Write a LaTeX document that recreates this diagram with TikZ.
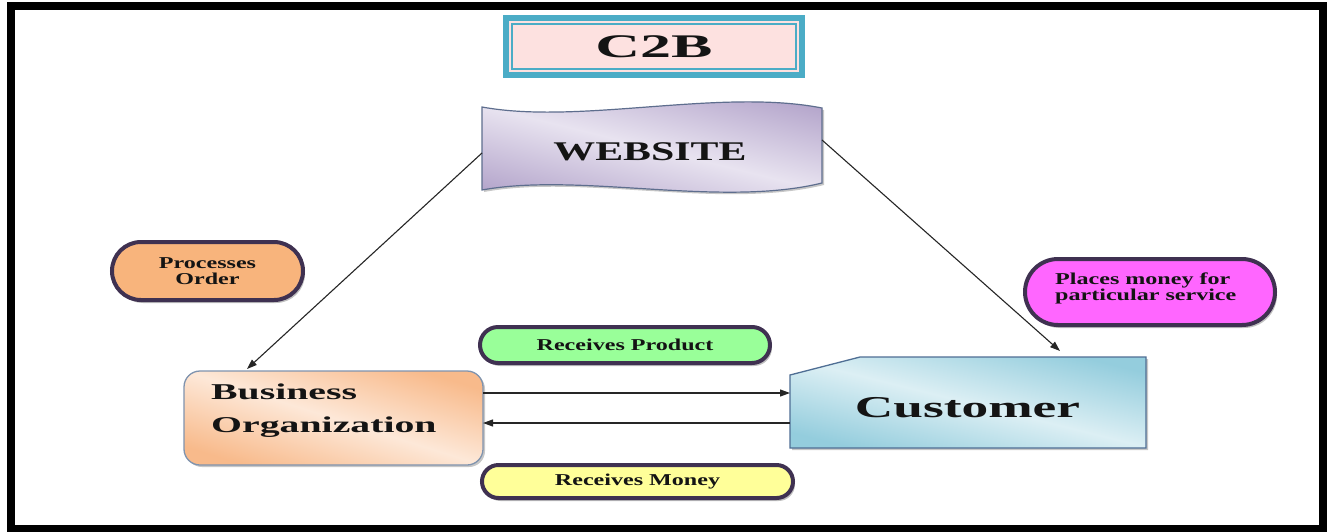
\documentclass[tikz,border=0pt]{standalone}
\usepackage{fontspec}
\setmainfont{Liberation Serif}
\newfontfamily\titlefont[FakeStretch=1.88]{Liberation Serif}
\newfontfamily\webfont[FakeStretch=1.55]{Liberation Serif}
\newfontfamily\bigfont[FakeStretch=1.76]{Liberation Serif}
\newfontfamily\labelfont[FakeStretch=1.45]{Liberation Serif}
\usetikzlibrary{shapes.misc,arrows.meta,shadows}

\definecolor{titleteal}{HTML}{4BACC6}
\definecolor{titlepink}{HTML}{FDE1E0}
\definecolor{webdark}{HTML}{B4A5CB}
\definecolor{weblight}{HTML}{E8E3F0}
\definecolor{webedge}{HTML}{5E6E8E}
\definecolor{bizdark}{HTML}{F8BA8B}
\definecolor{bizlight}{HTML}{FDE8D8}
\definecolor{bizedge}{HTML}{7F93AE}
\definecolor{custdark}{HTML}{94CDDD}
\definecolor{custlight}{HTML}{DCEFF4}
\definecolor{custedge}{HTML}{4F6E94}
\definecolor{pilledge}{HTML}{3F3151}
\definecolor{greenfill}{HTML}{99FF99}
\definecolor{yellowfill}{HTML}{FFFF99}
\definecolor{orangefill}{HTML}{F8B47C}
\definecolor{magentafill}{HTML}{FF66FF}
\definecolor{inkcolor}{HTML}{141414}

\tikzset{
  pill/.style={rounded rectangle, draw=pilledge, line width=4pt, inner sep=0pt,
    text=inkcolor, font=\labelfont\bfseries\fontsize{16.6}{16}\selectfont,
    drop shadow={shadow xshift=2pt, shadow yshift=-3pt, opacity=0.35, fill=black!70}},
  pilltext/.style={anchor=base west, inner sep=0pt, text=inkcolor,
    font=\labelfont\bfseries\fontsize{16.6}{16}\selectfont},
  bigtext/.style={inner sep=0pt, text=inkcolor,
    font=\bigfont\bfseries\fontsize{22.6}{26}\selectfont},
  conn/.style={line width=1.1pt, draw=black!85, -{Triangle[length=10pt,width=7pt]}},
  softshadow/.style={drop shadow={shadow xshift=2pt, shadow yshift=-2pt, opacity=0.22, fill=black}}
}

\begin{document}
\begin{tikzpicture}[x=1pt,y=-1pt]
\useasboundingbox (0,0) rectangle (1333,531);
\fill[white] (0,0) rectangle (1333,531);

% outer frame
\draw[line width=8pt] (11,6) rectangle (1323,529);

% title plate
\fill[titleteal] (503,15) rectangle (805,78);
\fill[titlepink] (509,21) rectangle (799,72);
\draw[titleteal, line width=1.2pt] (512,24) rectangle (796,69);
\node[anchor=base, inner sep=0pt, text=inkcolor,
      font=\titlefont\bfseries\fontsize{33}{36}\selectfont] (title) at (654,57) {C2B};

% website banner (light band along the diagonal, darker corners)
\path[draw=webedge, line width=1.2pt, top color=webdark, bottom color=webdark,
      middle color=weblight, shading angle=-14, softshadow]
  (482,107) .. controls (580,125) and (720,88) .. (822,108)
  -- (822,183) .. controls (720,208) and (580,172) .. (482,190) -- cycle;
\node[anchor=base, inner sep=0pt, text=inkcolor,
      font=\webfont\bfseries\fontsize{27}{30}\selectfont] (web) at (650,160) {WEBSITE};
\coordinate (webW) at (482,153);
\coordinate (webE) at (822,140);

% business organization
\node[rectangle, rounded corners=16pt, draw=bizedge, line width=1.3pt,
      top color=bizdark, bottom color=bizdark, middle color=bizlight, shading angle=-17.5,
      minimum width=299pt, minimum height=94pt, softshadow] (biz) at (333.5,418) {};
\node[bigtext, anchor=base west] (bizA) at (211,399) {Business};
\node[bigtext, anchor=base west] (bizB) at (211,432) {Organization};

% customer
\path[draw=custedge, line width=1.3pt, top color=custdark, bottom color=custdark,
      middle color=custlight, shading angle=-14, softshadow]
  (790,375) -- (860,357) -- (1146,357) -- (1146,448) -- (790,448) -- cycle;
\node[anchor=base, inner sep=0pt, text=inkcolor,
      font=\bigfont\bfseries\fontsize{30.3}{34}\selectfont] (cust) at (967.5,417) {Customer};

% labels
\node[pill, fill=orangefill, minimum width=191pt, minimum height=58pt, align=center]
  (process) at (207.5,271) {Processes\\Order};
\node[pill, fill=magentafill, minimum width=250pt, minimum height=66pt] (places) at (1150,292) {};
\node[pilltext] (placesA) at (1055,284) {Places money for};
\node[pilltext] (placesB) at (1055,300) {particular service};
\node[pill, fill=greenfill, minimum width=290pt, minimum height=36pt] (product) at (625,345) {Receives Product};
\node[pill, fill=yellowfill, minimum width=311pt, minimum height=33pt] (money) at (637.5,481.5) {Receives Money};

% connector end points
\coordinate (bizN) at (247,369);
\coordinate (custN) at (1060,351);
\coordinate (bizE1) at (483,393);
\coordinate (custW1) at (790,393);
\coordinate (bizE2) at (483,423);
\coordinate (custW2) at (790,423);

% connectors
\draw[conn] (webW) -- (bizN);
\draw[conn] (webE) -- (custN);
\draw[conn] (bizE1) -- (custW1);
\draw[conn] (custW2) -- (bizE2);
\end{tikzpicture}
\end{document}
